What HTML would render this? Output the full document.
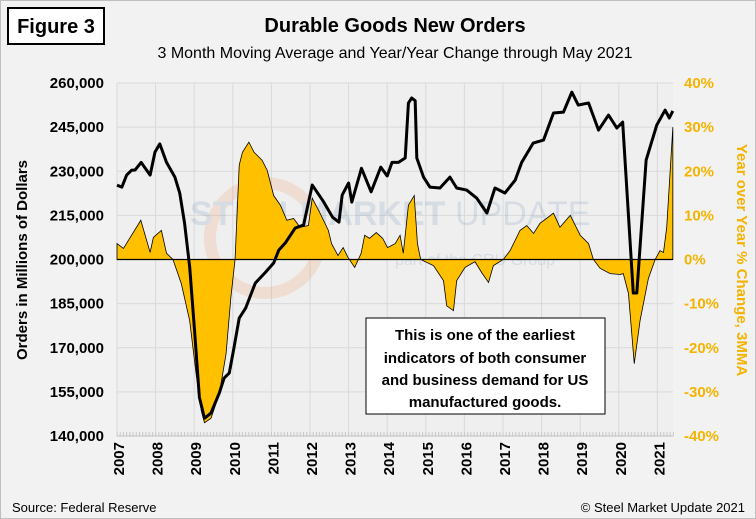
<!DOCTYPE html>
<html><head><meta charset="utf-8"><style>
body{margin:0;width:756px;height:519px;background:#f2f2f2;font-family:"Liberation Sans",sans-serif;overflow:hidden}
svg{display:block}
</style></head><body>
<svg id="chart" width="756" height="519" xmlns="http://www.w3.org/2000/svg">
<rect x="0.5" y="0.5" width="755" height="518" fill="#f2f2f2" stroke="#bfbfbf"/>
<rect x="8" y="8" width="96" height="36" fill="#fff" stroke="#000" stroke-width="2"/>
<text x="56" y="33" text-anchor="middle" font-size="20" font-weight="bold" font-family="Liberation Sans Narrow, Liberation Sans, sans-serif">Figure 3</text>
<text x="395" y="32" text-anchor="middle" font-size="20" font-weight="bold">Durable Goods New Orders</text>
<text x="395" y="58" text-anchor="middle" font-size="16">3 Month Moving Average and Year/Year Change through May 2021</text>
<rect x="117" y="83" width="556" height="353" fill="#efefef"/>
<g id="grid"></g>
<g opacity="0.16">
<circle cx="265" cy="238" r="55" fill="none" stroke="#f08040" stroke-width="12"/>
<text x="190" y="225" font-size="34" font-weight="bold" fill="#5a7fa8">STEEL</text>
<text x="300" y="225" font-size="34" font-weight="bold" fill="#5a7fa8">MARKET</text>
<text x="455" y="225" font-size="34" fill="#5a7fa8">UPDATE</text>
<text x="395" y="265" font-size="16" fill="#5a7fa8">part of the CRU Group</text>
</g>
<g id="series"></g>
<g id="axes"></g>
<rect x="366" y="318" width="239" height="96" fill="#fff" stroke="#000" stroke-width="1"/>
<g font-size="15" font-weight="bold" text-anchor="middle">
<text x="485" y="340">This is one of the earliest</text>
<text x="485" y="363">indicators of both consumer</text>
<text x="485" y="385">and business demand for US</text>
<text x="485" y="407">manufactured goods.</text>
</g>
<text x="0" y="0" transform="translate(27,260) rotate(-90)" text-anchor="middle" font-size="15" font-weight="bold">Orders in Millions of Dollars</text>
<text x="0" y="0" transform="translate(737,260) rotate(90)" text-anchor="middle" font-size="15" font-weight="bold" fill="#f5b300">Year over Year % Change, 3MMA</text>
<text x="12" y="512" font-size="13">Source: Federal Reserve</text>
<text x="745" y="512" text-anchor="end" font-size="13">© Steel Market Update 2021</text>
</svg>
<script>
const yearTicks=[2007,2008,2009,2010,2011,2012,2013,2014,2015,2016,2017,2018,2019,2020,2021];
const leftTicks=[140000,155000,170000,185000,200000,215000,230000,245000,260000];
const rightTicks=[-40,-30,-20,-10,0,10,20,30,40];
const orderDates=[0,1.5,3,4.6,5.6,7.5,10.3,11.8,13.3,15.4,18,19.5,21,22.6,24.1,25.6,27.2,29.2,31.8,33.3,34.9,36.4,38,40,43,46.2,48.7,50.3,52.3,55.4,58,60.7,64,67,69,70,72,73,76,79,82,84,85.5,87.5,89.6,90.6,91.6,92.7,93.2,95.3,97.3,100.4,103.5,105.6,108.7,111.8,115,117.5,120.6,123.8,125.8,129.4,132.6,135.7,138.8,141.4,143.4,146.6,149.7,152.8,155.4,157.2,160.5,161.6,164.5,167.8,170.4,171.7,172.8];
const orderValues=[225300,224600,228700,230400,230400,233000,228700,236500,239300,233000,228000,222600,212400,197400,176000,153200,146000,147800,154600,159700,161400,170200,180100,183500,192000,195700,198800,203200,205600,210700,211700,225300,220000,214400,212700,221900,226000,219500,231000,223000,231400,228400,233000,233000,234500,253200,254900,254000,234500,228000,224600,224300,228000,224300,223600,220900,215800,224300,222600,227000,233000,239600,240600,249800,250100,256900,252500,253200,244000,249100,244700,246700,188600,188600,233800,245700,250800,248100,250500];
const yoyDates=[0,2,7.4,10.3,11.3,13.8,15.4,17.4,20,22.6,24.6,26.2,27.2,29.2,31.8,33.9,35.4,36.7,38,39,41,42.6,45.1,46.7,48.7,50.8,52.8,54.9,56.9,59.5,60.7,63,65.7,66.7,68.7,70.3,71.8,73.9,75.9,77,78.5,80.6,82.6,84.1,86.5,88,89,90.6,92.4,93.4,94.4,98.4,101.5,102.5,104.6,105.6,108.2,111.3,113.4,115.5,117,120.1,122.2,125.3,127.4,129.5,131.5,135.7,137.7,140.9,144,146.6,148.1,150.2,153.3,156.4,157.4,159,160.8,162.6,165.2,167.3,168.8,169.9,170.9,172.8];
const yoyValues=[3.6,2.5,8.9,1.6,5,6.6,1.4,0,-5.5,-13.9,-26,-34.3,-37,-36,-30.5,-21.4,-8.6,0,21.4,24.3,26.6,24.3,22.5,20.2,14.5,12.3,8.9,9.3,7.3,7.7,13.9,10.7,6.6,3.6,0.9,2.7,0.5,-1.8,1.4,5.5,4.8,6.1,4.8,2.7,3.6,5.5,1.4,12.3,14.5,3.6,0,-1.4,-4.8,-10.5,-11.6,-4.8,-1.8,-0.5,-3,-5.2,-1.4,0,2,6.6,7.7,5.9,8.2,10.5,7.3,10,5.5,3.6,0,-2,-3.2,-3.4,-3.2,-7.7,-23.6,-13.9,-4.3,0,2,1.6,7.3,30];
const NS="http://www.w3.org/2000/svg";
const X0=117,X1=673,Y0=83,Y1=436,PX_PER_YEAR=38.6;
function xm(m){return X0+m*PX_PER_YEAR/12;}
function xy(yr){return X0+(yr-2007)*PX_PER_YEAR;}
function yl(v){return Y1-(v-140000)/120000*(Y1-Y0);}
function yr(p){return Y1-(p+40)/80*(Y1-Y0);}
function mk(tag,attrs,parent){const e=document.createElementNS(NS,tag);for(const k in attrs)e.setAttribute(k,attrs[k]);parent.appendChild(e);return e;}
const grid=document.getElementById('grid'),axes=document.getElementById('axes'),series=document.getElementById('series');
leftTicks.forEach((v,i)=>{
  const l=mk('line',{x1:X0,x2:X1,y1:yl(v),y2:yl(v),stroke:'#d9d9d9','stroke-width':1},grid);
  
  
  const t=mk('text',{x:104,y:yl(v)+5,'text-anchor':'end','font-size':15,'font-weight':'bold'},axes);
  t.textContent=v.toLocaleString('en-US');
  
  
});
rightTicks.forEach(p=>{
  const t=mk('text',{x:684,y:yr(p)+5,'font-size':15,'font-weight':'bold',fill:'#f5b300'},axes);
  t.textContent=p+'%';
  
  
});
yearTicks.forEach(yv=>{
  const x=xy(yv);
  const l=mk('line',{x1:x,x2:x,y1:Y0,y2:Y1,stroke:'#d9d9d9','stroke-width':1},grid);
  
  
  const t=mk('text',{transform:`translate(${x+7},442) rotate(-90)`,'text-anchor':'end','font-size':15,'font-weight':'bold'},axes);
  t.textContent=yv;
  
  
});
for(let m=0;m<=173;m++){
  const l=mk('line',{x1:xm(m),x2:xm(m),y1:Y1-4,y2:Y1,stroke:'#c8c8c8','stroke-width':1},grid);
  
  
}
mk('line',{x1:X0,x2:X1,y1:Y1,y2:Y1,stroke:'#bfbfbf'},grid);
let d=`M${xm(yoyDates[0])},${yr(0)}`;
yoyDates.forEach((m,i)=>{d+=` L${xm(m)},${yr(yoyValues[i])}`;});
d+=` L${xm(yoyDates[yoyDates.length-1])},${yr(0)} Z`;
const area=mk('path',{d:d,fill:'#ffc000',stroke:'#000','stroke-width':0.8},series);


const zl=mk('line',{x1:X0,x2:xm(yoyDates[yoyDates.length-1]),y1:yr(0),y2:yr(0),stroke:'#000','stroke-width':1.2},series);


const pts=orderDates.map((m,i)=>xm(m)+','+yl(orderValues[i])).join(' ');
const ln=mk('polyline',{points:pts,fill:'none',stroke:'#000','stroke-width':3,'stroke-linejoin':'round'},series);


</script>
</body></html>
